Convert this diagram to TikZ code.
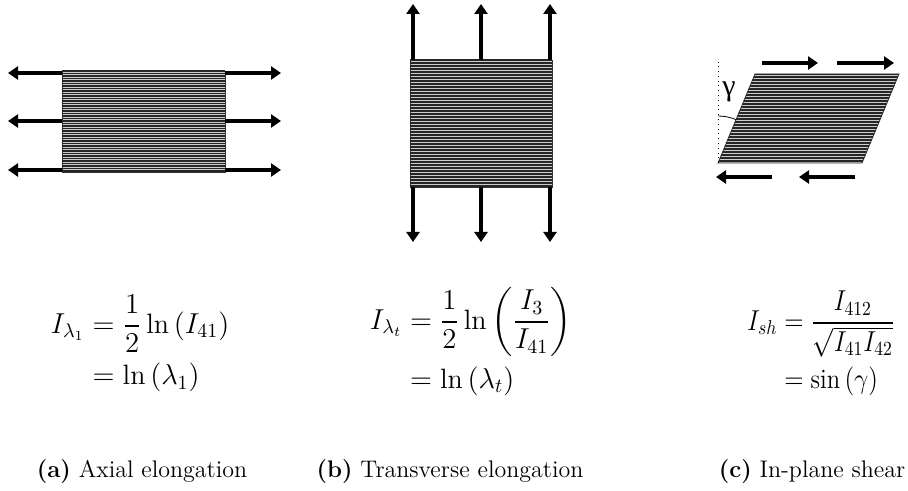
\documentclass[tikz,border=0pt]{standalone}
\usepackage{amsmath,graphicx}
\usepackage{fontspec}
\newfontfamily\greekfont{Liberation Serif}
\usepackage{tikz}
\usetikzlibrary{arrows.meta,calc}
\tikzstyle{force} = [line width=2pt, -{Triangle[width=6.5pt,length=5pt]}]
\tikzstyle{ply} = [draw=black!80, line width=0.4pt, fill=gray!40]
\tikzstyle{fibre} = [line width=0.55pt, black!85]
\tikzstyle{eqn} = [font=\fontsize{14}{17}\selectfont, inner sep=0pt]
\tikzstyle{caption} = [font=\large, inner sep=0pt]

\begin{document}
\begin{tikzpicture}[x=0.5pt, y=-0.5pt]
    \useasboundingbox (0,0) rectangle (908,491);
    % (a) axial
    \filldraw[ply] (62,71) rectangle (225,172);
    \foreach \k in {0,...,40} \draw[fibre] (62,{71+2.5*\k}) -- (225,{71+2.5*\k});
    \foreach \y/\n in {73/1,121/2,170/3} {
        \coordinate (aL\n) at (62,\y);  \coordinate (aLtip\n) at (8,\y);
        \coordinate (aR\n) at (225,\y); \coordinate (aRtip\n) at (281,\y);
        \draw[force] (aL\n) -- (aLtip\n);
        \draw[force] (aR\n) -- (aRtip\n);
    }
    % (b) transverse
    \filldraw[ply] (410,60) rectangle (552,187);
    \foreach \k in {0,...,42} \draw[fibre] (410,{60+3*\k}) -- (552,{60+3*\k});
    \foreach \x/\n in {413/1,481/2,550/3} {
        \coordinate (bT\n) at (\x,60);  \coordinate (bTtip\n) at (\x,4);
        \coordinate (bB\n) at (\x,187); \coordinate (bBtip\n) at (\x,242);
        \draw[force] (bT\n) -- (bTtip\n);
        \draw[force] (bB\n) -- (bBtip\n);
    }
    % (c) shear
    \coordinate (c0) at (718,163);
    \coordinate (c1) at (862,163);
    \coordinate (c2) at (899,74);
    \coordinate (c3) at (755,74);
    \filldraw[ply] (c0) -- (c1) -- (c2) -- (c3) -- cycle;
    \begin{scope}
        \clip (c0) -- (c1) -- (c2) -- (c3) -- cycle;
        \foreach \k in {0,...,30} \draw[fibre] (700,{74+3*\k}) -- (905,{74+3*\k});
    \end{scope}
    \draw[dotted, thin] (c0) -- (718,62);
    \draw[thin] ($(c0)+(0,-47)$) arc[start angle=-90, end angle=-67.4, radius=47];
    \node[font=\greekfont\fontsize{15}{15}\selectfont] (gam) at (729,92) {γ};
    \coordinate (cT1) at (762,63); \coordinate (cTtip1) at (818,63);
    \coordinate (cT2) at (837,63); \coordinate (cTtip2) at (894,63);
    \coordinate (cB1) at (772,177); \coordinate (cBtip1) at (716,177);
    \coordinate (cB2) at (855,177); \coordinate (cBtip2) at (799,177);
    \foreach \n in {1,2} {
        \draw[force, line width=2.4pt] (cT\n) -- (cTtip\n);
        \draw[force, line width=2.4pt] (cB\n) -- (cBtip\n);
    }
    % invariants
    \node[eqn] (eqa) at (140,345) {$\begin{aligned}
        I_{\lambda_1} &= \frac{1}{2}\ln\left(I_{41}\right)\\
        &= \ln\left(\lambda_1\right)\end{aligned}$};
    \node[eqn] (eqb) at (471,343) {$\begin{aligned}
        I_{\lambda_t} &= \frac{1}{2}\ln\left(\frac{I_3}{I_{41}}\right)\\
        &= \ln\left(\lambda_t\right)\end{aligned}$};
    \node[eqn] (eqc) at (821,345) {\scalebox{0.88}[1]{$\begin{aligned}
        I_{sh} &= \frac{I_{412}}{\sqrt{I_{41}I_{42}}}\\
        &= \sin\left(\gamma\right)\end{aligned}$}};
    % captions
    \node[caption] (capa) at (142,472) {\textbf{(a)} Axial elongation};
    \node[caption] (capb) at (450,472) {\textbf{(b)} Transverse elongation};
    \node[caption] (capc) at (812,472) {\textbf{(c)} In-plane shear};
\end{tikzpicture}
\end{document}
